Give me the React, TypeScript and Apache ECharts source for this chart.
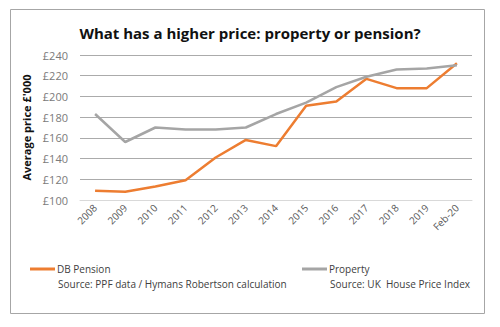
import React, { useEffect, useRef } from "react";
import * as echarts from "echarts";

const categories = ["2008", "2009", "2010", "2011", "2012", "2013", "2014", "2015", "2016", "2017", "2018", "2019", "Feb-20"];
const pensionValues = [109, 108, 113, 119, 141, 158, 152, 191, 195, 217, 208, 208, 232];
const propertyValues = [183, 156, 170, 168, 168, 170, 183, 194, 209, 219, 226, 227, 230];
const yTicks = [100, 120, 140, 160, 180, 200, 220, 240];
const titleText = "What has a higher price: property or pension?";
const pensionSource = "Source: PPF data / Hymans Robertson calculation";
const propertySource = "Source: UK  House Price Index";

const FONT = "'Open Sans', 'Noto Sans', sans-serif";

export default function App() {
  const ref = useRef<HTMLDivElement>(null);
  useEffect(() => {
    const chart = echarts.init(ref.current!, null, { renderer: "svg" });
    chart.setOption({
      animation: false,
      backgroundColor: "#ffffff",
      title: {
        text: titleText,
        left: "center",
        top: 20,
        textStyle: { fontFamily: FONT, fontSize: 15, fontWeight: "bold", color: "#111" },
      },
      grid: { left: 80, right: 28, top: 55, bottom: 127 },
      legend: [
        {
          data: ["DB Pension"],
          left: 30,
          top: 263,
          padding: 0,
          itemWidth: 25,
          itemHeight: 3,
          itemGap: 2,
          icon: "rect",
          textStyle: { fontFamily: FONT, fontSize: 10, lineHeight: 12, color: "#404040", padding: [0, 0, 0, -3] },
        },
        {
          data: ["Property"],
          left: 302,
          top: 263,
          padding: 0,
          itemWidth: 25,
          itemHeight: 3,
          icon: "rect",
          textStyle: { fontFamily: FONT, fontSize: 10, lineHeight: 12, color: "#404040", padding: [0, 0, 0, -3] },
        },
      ],
      xAxis: {
        type: "category",
        data: categories,
        boundaryGap: true,
        axisLine: { lineStyle: { color: "#d9d9d9" } },
        axisTick: { show: false },
        axisLabel: { rotate: 45, fontFamily: FONT, fontSize: 10, color: "#595959", margin: 6 },
      },
      yAxis: {
        type: "value",
        min: yTicks[0],
        max: yTicks[yTicks.length - 1],
        interval: 20,
        name: "Average price £'000",
        nameLocation: "middle",
        nameGap: 42,
        nameTextStyle: { fontFamily: FONT, fontSize: 11, fontWeight: "bold", color: "#111" },
        axisLine: { show: false },
        axisTick: { show: false },
        axisLabel: { fontFamily: FONT, fontSize: 11, color: "#7a7a7a", formatter: (v: number) => "£" + v, margin: 12 },
        splitLine: { lineStyle: { color: "#ababab", width: 1 } },
      },
      series: [
        {
          name: "DB Pension",
          type: "line",
          data: pensionValues,
          symbol: "none",
          lineStyle: { color: "#ED7D31", width: 2.5 },
          itemStyle: { color: "#ED7D31" },
        },
        {
          name: "Property",
          type: "line",
          data: propertyValues,
          symbol: "none",
          lineStyle: { color: "#A5A5A5", width: 2.5 },
          itemStyle: { color: "#A5A5A5" },
        },
      ],
      graphic: [
        {
          type: "rect",
          shape: { x: 10.5, y: 9.5, width: 474, height: 304 },
          style: { fill: "none", stroke: "#a6a6a6", lineWidth: 1 },
          silent: true,
        },
        {
          type: "text",
          left: 58,
          top: 278,
          style: { text: pensionSource, font: "10px " + FONT, lineHeight: 12, fill: "#404040" },
        },
        {
          type: "text",
          left: 330,
          top: 278,
          style: { text: propertySource, font: "10px " + FONT, lineHeight: 12, fill: "#404040" },
        },
      ],
    });
    return () => chart.dispose();
  }, []);
  return <div ref={ref} style={{ width: 500, height: 327, position: "absolute", left: 0, top: 0 }} />;
}
